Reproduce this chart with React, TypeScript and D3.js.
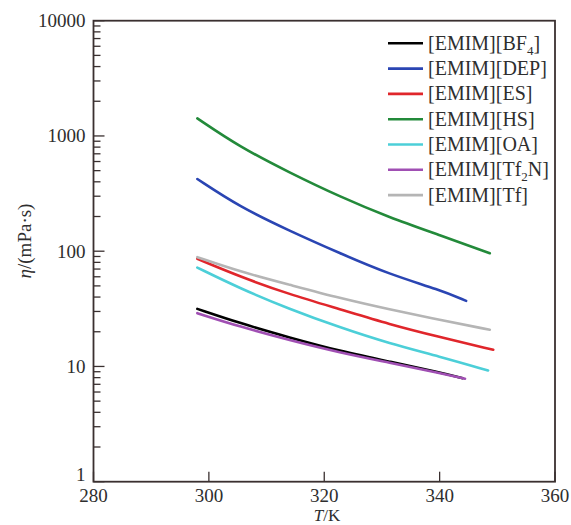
import React from "react";
import * as d3 from "d3";

const seriesNames = ["BF4", "DEP", "ES", "HS", "OA", "Tf2N", "Tf"];
const seriesColors = ["#000000", "#2a45b3", "#e0262b", "#238a3a", "#4ccfd8", "#a04fb3", "#b5b5b5"];

const bf4T = [298, 305.3, 314, 322.7, 331.3, 340, 344];
const bf4V = [31.6, 23.8, 17.8, 13.6, 11.0, 8.9, 7.9];
const depT = [298, 305.3, 314, 322.7, 331.3, 340, 344.6];
const depV = [423, 243, 150, 96, 63, 46.2, 37.1];
const esT = [298, 305.3, 314, 322.7, 331.3, 340, 349.3];
const esV = [85.8, 60.3, 42.2, 31.4, 23.2, 18.0, 13.95];
const hsT = [298, 305.3, 314, 322.7, 331.3, 340, 348.7];
const hsV = [1421, 806, 480, 297, 196, 138, 96];
const oaT = [298, 305.3, 314, 322.7, 331.3, 340, 348.4];
const oaV = [72.1, 47.8, 31.4, 21.8, 15.8, 12.2, 9.23];
const tf2nT = [298, 305.3, 314, 322.7, 331.3, 340, 344.4];
const tf2nV = [29.0, 22.2, 16.9, 13.2, 10.8, 8.75, 7.82];
const tfT = [298, 305.3, 314, 322.7, 331.3, 340, 348.7];
const tfV = [88.7, 66.6, 51.1, 39.1, 31.2, 25.4, 20.8];

const xTicks = [280, 300, 320, 340, 360];
const yTicks = [1, 10, 100, 1000, 10000];

const seriesT = [bf4T, depT, esT, hsT, oaT, tf2nT, tfT];
const seriesV = [bf4V, depV, esV, hsV, oaV, tf2nV, tfV];

const W = 571;
const H = 525;
const L = 93.5, R = 555, T = 20.7, B = 481.7;
const frameColor = "#3a3030";
const textColor = "#2e2e2e";
const font = "Liberation Serif";

function LegendLabel({ name }: { name: string }) {
  if (name === "BF4") {
    return (<>[EMIM][BF<tspan fontSize={13} dy={5}>4</tspan><tspan dy={-5}>]</tspan></>);
  }
  if (name === "Tf2N") {
    return (<>[EMIM][Tf<tspan fontSize={13} dy={5}>2</tspan><tspan dy={-5}>N]</tspan></>);
  }
  return <>{`[EMIM][${name}]`}</>;
}

export default function App() {
  const x = d3.scaleLinear().domain([280, 360]).range([L, R]);
  const y = d3.scaleLog().domain([1, 10000]).range([B, T]);
  const line = d3
    .line<[number, number]>()
    .x((d) => x(d[0]))
    .y((d) => y(d[1]))
    .curve(d3.curveBasis);

  const minor = y.ticks().filter((v) => !yTicks.includes(v));
  const drawOrder = [0, 1, 2, 3, 4, 5, 6];

  return (
    <svg width={W} height={H} style={{ position: "absolute", left: 0, top: 0 }}>
      <rect x={0} y={0} width={W} height={H} fill="#fff" />
      {drawOrder.map((i) => (
        <path
          key={i}
          d={line(seriesT[i].map((t, k) => [t, seriesV[i][k]] as [number, number])) || ""}
          fill="none"
          stroke={seriesColors[i]}
          strokeWidth={2.6}
          strokeLinecap="round"
        />
      ))}
      {minor.map((v) => (
        <line key={"m" + v} x1={L} x2={L + 7} y1={y(v)} y2={y(v)} stroke={frameColor} strokeWidth={1.3} />
      ))}
      {yTicks.map((v) => (
        <line key={"M" + v} x1={L} x2={L + 11} y1={y(v)} y2={y(v)} stroke={frameColor} strokeWidth={1.3} />
      ))}
      {xTicks.map((v) => (
        <line key={"x" + v} x1={x(v)} x2={x(v)} y1={B} y2={B - 10} stroke={frameColor} strokeWidth={1.3} />
      ))}
      <rect x={L} y={T} width={R - L} height={B - T} fill="none" stroke={frameColor} strokeWidth={1.8} />
      {yTicks.map((v) => (
        <text key={"yl" + v} x={L - 8} y={v === 1 ? y(v) - 1.2 : y(v) + 6.5} textAnchor="end" fontSize={19} fill={textColor} fontFamily={font}>
          {String(v)}
        </text>
      ))}
      {xTicks.map((v) => (
        <text key={"xl" + v} x={x(v)} y={502} textAnchor="middle" fontSize={19} fill={textColor} fontFamily={font}>
          {String(v)}
        </text>
      ))}
      <text x={327} y={521.3} textAnchor="middle" fontSize={17} fill={textColor} fontFamily={font}>
        <tspan fontStyle="italic">T</tspan>/K
      </text>
      <text
        transform={`translate(31,241) rotate(-90)`}
        textAnchor="middle"
        fontSize={19}
        fill={textColor}
        fontFamily={font}
      >
        <tspan fontStyle="italic">η</tspan>/(mPa·s)
      </text>
      {seriesNames.map((n, i) => {
        const cy = 43.3 + i * 25.3;
        return (
          <g key={n}>
            <line x1={388} x2={423} y1={cy} y2={cy} stroke={seriesColors[i]} strokeWidth={2.6} />
            <text x={428} y={cy + 6.5} fontSize={20} fill={textColor} fontFamily={font}>
              <LegendLabel name={n} />
            </text>
          </g>
        );
      })}
    </svg>
  );
}
